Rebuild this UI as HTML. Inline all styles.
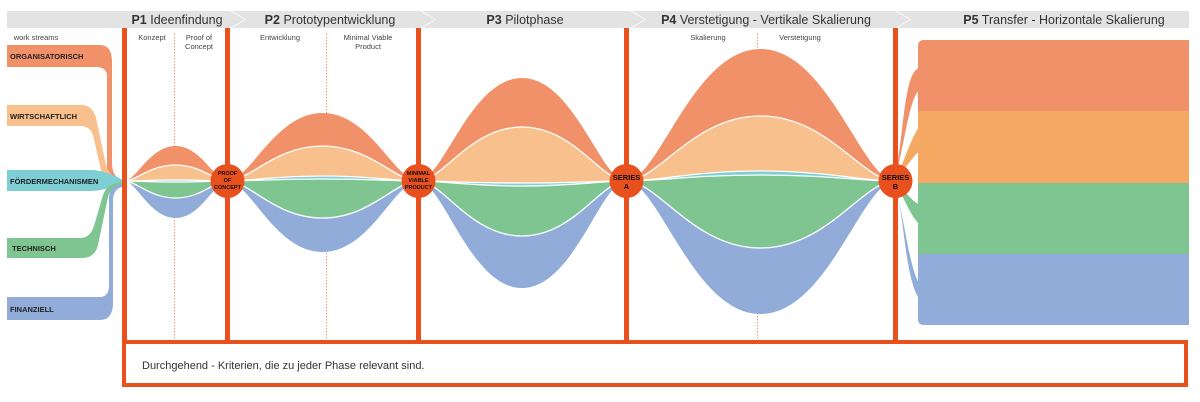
<!DOCTYPE html>
<html><head><meta charset="utf-8"><style>
html,body{margin:0;padding:0;background:#fff;width:1200px;height:402px;overflow:hidden}
svg text{font-family:"Liberation Sans",sans-serif}
</style></head><body>
<svg id="s" width="1200" height="402" viewBox="0 0 1200 402" xmlns="http://www.w3.org/2000/svg">
<!-- header -->
<polygon points="7,11 230,11 245,19.5 230,28 7,28" fill="#e3e3e3"/>
<polygon points="232,11 420,11 435,19.5 420,28 232,28 246,19.5" fill="#e3e3e3"/>
<polygon points="422,11 630,11 645,19.5 630,28 422,28 436,19.5" fill="#e3e3e3"/>
<polygon points="632,11 895,11 910,19.5 895,28 632,28 646,19.5" fill="#e3e3e3"/>
<polygon points="897,11 1189,11 1189,28 897,28 911,19.5" fill="#e3e3e3"/>
<g font-size="12.5" fill="#333" text-anchor="middle">
<text x="177" y="24"><tspan font-weight="bold">P1</tspan> Ideenfindung</text>
<text x="330" y="24"><tspan font-weight="bold">P2</tspan> Prototypentwicklung</text>
<text x="525" y="24"><tspan font-weight="bold">P3</tspan> Pilotphase</text>
<text x="766" y="24"><tspan font-weight="bold">P4</tspan> Verstetigung - Vertikale Skalierung</text>
<text x="1064" y="24"><tspan font-weight="bold">P5</tspan> Transfer - Horizontale Skalierung</text>
</g>
<g font-size="7.5" fill="#444" text-anchor="middle">
<text x="36" y="40">work streams</text>
<text x="152" y="40">Konzept</text>
<text x="199" y="40">Proof of</text><text x="199" y="49">Concept</text>
<text x="280" y="40">Entwicklung</text>
<text x="368" y="40">Minimal Viable</text><text x="368" y="49">Product</text>
<text x="708" y="40">Skalierung</text>
<text x="800" y="40">Verstetigung</text>
</g>
<!-- dotted lines -->
<g stroke="#f07a5a" stroke-width="0.8" stroke-dasharray="1.5,1.5">
<line x1="174.5" y1="34" x2="174.5" y2="340"/>
<line x1="326.5" y1="34" x2="326.5" y2="340"/>
<line x1="757.5" y1="34" x2="757.5" y2="340"/>
</g>
<!-- left ribbons -->
<path d="M7,45 H100 Q112,45 112,62 V165 Q113,178 123,180 L123,182 Q108,180 107,168 V75 Q106,67 96,67 H7 Z" fill="#f0916a"/>
<path d="M7,105 H82 Q92,105 96,118 L106,165 Q110,178 123,180 L123,182 Q104,181 101,170 L93,135 Q90,126 80,126 H7 Z" fill="#f8c08c"/>
<path d="M7,170 H90 Q105,170 123,180 L123,182 Q105,191 90,191 H7 Z" fill="#7ecfd4"/>
<path d="M7,238 H80 Q90,238 94,226 L103,195 Q107,183 123,182 L123,185 Q111,186 108,197 L98,245 Q95,258 82,258 H7 Z" fill="#7fc592"/>
<path d="M7,297 H100 Q108,297 109,287 V197 Q110,185 123,184 L123,187 Q114,188 113,199 V305 Q112,320 100,320 H7 Z" fill="#92acd9"/>
<g font-size="7.5" font-weight="bold" fill="#222">
<text x="10" y="59">ORGANISATORISCH</text>
<text x="10" y="119">WIRTSCHAFTLICH</text>
<text x="10" y="184">FÖRDERMECHANISMEN</text>
<text x="12" y="251">TECHNISCH</text>
<text x="10" y="312">FINANZIELL</text>
</g>
<g id="bands"></g>
<!-- right block -->
<path d="M895,180 C905,120 905,70 920,68 L920,90 C910,95 905,140 895,180 Z" fill="#f0916a"/>
<path d="M895,180 C905,160 910,140 920,125 L920,150 C910,160 905,170 895,180 Z" fill="#f5a963"/>
<path d="M895,182 C905,190 910,200 920,205 L920,225 C910,215 905,200 895,182 Z" fill="#7fc592"/>
<path d="M895,182 C905,220 905,280 920,300 L920,285 C910,270 905,225 895,182 Z" fill="#92acd9"/>
<path d="M924,40 H1189 V111 H918 V46 Q918,40 924,40 Z" fill="#f0916a"/>
<rect x="918" y="111" width="271" height="72" fill="#f5a963"/>
<rect x="918" y="183" width="271" height="71" fill="#7fc592"/>
<path d="M918,254 H1189 V325 H924 Q918,325 918,319 Z" fill="#92acd9"/>
<!-- orange structure -->
<g fill="#e8501e">
<rect x="122" y="28" width="5" height="314"/>
<rect x="225" y="28" width="5" height="314"/>
<rect x="416" y="28" width="5" height="314"/>
<rect x="624" y="28" width="5" height="314"/>
<rect x="893" y="28" width="5" height="314"/>
</g>
<rect x="124" y="342" width="1062" height="43" fill="#fff" stroke="#e8501e" stroke-width="4"/>
<text x="142" y="369" font-size="11" fill="#333">Durchgehend - Kriterien, die zu jeder Phase relevant sind.</text>
<g fill="#e8501e">
<circle cx="227.5" cy="181" r="17"/>
<circle cx="418.5" cy="181" r="17"/>
<circle cx="626.5" cy="181" r="17"/>
<circle cx="895.5" cy="181" r="17"/>
</g>
<g font-weight="bold" fill="#111" text-anchor="middle">
<text font-size="5.5" x="227.5" y="175">PROOF</text><text font-size="5.5" x="227.5" y="182">OF</text><text font-size="5.5" x="227.5" y="189">CONCEPT</text>
<text font-size="5.5" x="418.5" y="175">MINIMAL</text><text font-size="5.5" x="418.5" y="182">VIABLE</text><text font-size="5.5" x="418.5" y="189">PRODUCT</text>
<text font-size="7.5" x="626.5" y="180">SERIES</text><text font-size="7.5" x="626.5" y="189">A</text>
<text font-size="7.5" x="895.5" y="180">SERIES</text><text font-size="7.5" x="895.5" y="189">B</text>
</g>
</svg>
<script>
(function(){
var c=181;
var phases=[[124,227,[35,16,1,-1,-17,-37]],[227,418,[68,35,5,2,-37,-71]],[418,626,[103,54,-2,-5,-55,-107]],[626,895,[132,65,10,6,-67,-133]]];
var cols=["#f0916a","#f8c08c","#7ecfd4","#7fc592","#92acd9"];
function fwd(x0,x1,h){var w=x1-x0,xm=(x0+x1)/2,k1=0.12*w,k2=0.25*w;
return "C"+(x0+k1)+","+c+" "+(xm-k2)+","+(c-h)+" "+xm+","+(c-h)+" C"+(xm+k2)+","+(c-h)+" "+(x1-k1)+","+c+" "+x1+","+c;}
function bwd(x0,x1,h){var w=x1-x0,xm=(x0+x1)/2,k1=0.12*w,k2=0.25*w;
return "C"+(x1-k1)+","+c+" "+(xm+k2)+","+(c-h)+" "+xm+","+(c-h)+" C"+(xm-k2)+","+(c-h)+" "+(x0+k1)+","+c+" "+x0+","+c;}
var g=document.getElementById("bands"),s="";
phases.forEach(function(p){var x0=p[0],x1=p[1],b=p[2];
for(var i=0;i<5;i++){s+='<path d="M'+x0+','+c+' '+fwd(x0,x1,b[i])+' '+bwd(x0,x1,b[i+1])+' Z" fill="'+cols[i]+'"/>';}
for(var i=1;i<5;i++){s+='<path d="M'+x0+','+c+' '+fwd(x0,x1,b[i])+'" fill="none" stroke="#fff" stroke-width="1.3"/>';}
});
g.innerHTML=s;
})();
</script>
</body></html>
